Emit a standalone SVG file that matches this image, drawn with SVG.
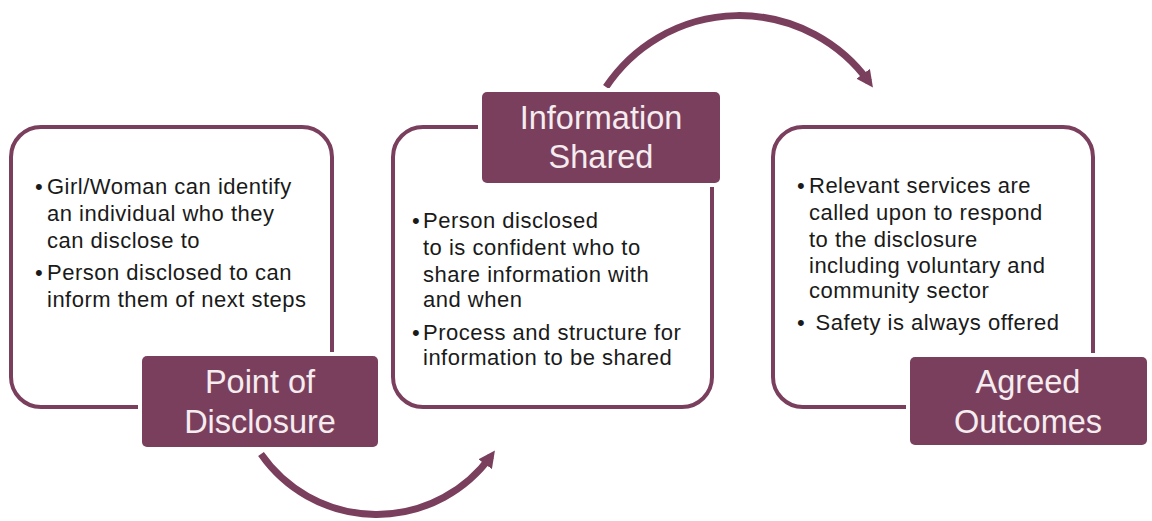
<svg xmlns="http://www.w3.org/2000/svg" width="1152" height="521" viewBox="0 0 1152 521">
  <style>
    .panel { fill: #ffffff; stroke: #7b3f5e; stroke-width: 4; }
    .tag { fill: #7b3f5e; stroke: #ffffff; stroke-width: 8; paint-order: stroke; }
    .tag-text { fill: #f4ecef; font-family: "Liberation Sans", Arial, sans-serif; font-size: 32.5px; text-anchor: middle; }
    .body { fill: #1a1a1a; font-family: "Liberation Sans", Arial, sans-serif; font-size: 22px; letter-spacing: 0.5px; }
    .flow { fill: none; stroke: #7b3f5e; stroke-width: 7; }
  </style>
  <defs>
    <marker id="head" viewBox="0 0 10 10" refX="6" refY="5" markerWidth="2.4" markerHeight="2.4" orient="auto" markerUnits="strokeWidth">
      <path d="M0,0 L10,5 L0,10 z" fill="#7b3f5e"/>
    </marker>
  </defs>

  <rect width="1152" height="521" fill="#ffffff"/>

  <!-- flow arrows between stages -->
  <g id="connectors">
    <path class="flow" d="M261,454 A141,141 0 0 0 491,456" marker-end="url(#head)"/>
    <path class="flow" d="M606,87 A160,160 0 0 1 869,82" marker-end="url(#head)"/>
  </g>

  <!-- stage 1 -->
  <g id="point-of-disclosure">
    <rect class="panel" x="11" y="127" width="321" height="280" rx="30"/>
    <text class="body">
      <tspan x="35" y="194">•</tspan><tspan x="47" y="194">Girl/Woman can identify</tspan>
      <tspan x="47" y="221">an individual who they</tspan>
      <tspan x="47" y="248">can disclose to</tspan>
      <tspan x="35" y="280">•</tspan><tspan x="47" y="280">Person disclosed to can</tspan>
      <tspan x="47" y="307">inform them of next steps</tspan>
    </text>
    <rect class="tag" x="142" y="356" width="236" height="91" rx="5"/>
    <text class="tag-text" x="260" y="393">Point of</text>
    <text class="tag-text" x="260" y="433">Disclosure</text>
  </g>

  <!-- stage 2 -->
  <g id="information-shared">
    <rect class="panel" x="393" y="127" width="319" height="280" rx="30"/>
    <text class="body">
      <tspan x="412" y="228">•</tspan><tspan x="423" y="228">Person disclosed</tspan>
      <tspan x="423" y="255">to is confident who to</tspan>
      <tspan x="423" y="282">share information with</tspan>
      <tspan x="423" y="307">and when</tspan>
      <tspan x="412" y="340">•</tspan><tspan x="423" y="340">Process and structure for</tspan>
      <tspan x="423" y="365">information to be shared</tspan>
    </text>
    <rect class="tag" x="482" y="92" width="238" height="91" rx="5"/>
    <text class="tag-text" x="601" y="129">Information</text>
    <text class="tag-text" x="601" y="168">Shared</text>
  </g>

  <!-- stage 3 -->
  <g id="agreed-outcomes">
    <rect class="panel" x="773" y="127" width="320" height="280" rx="30"/>
    <text class="body">
      <tspan x="797" y="193">•</tspan><tspan x="809" y="193">Relevant services are</tspan>
      <tspan x="809" y="220">called upon to respond</tspan>
      <tspan x="809" y="247">to the disclosure</tspan>
      <tspan x="809" y="273">including voluntary and</tspan>
      <tspan x="809" y="298">community sector</tspan>
      <tspan x="797" y="330">•</tspan><tspan x="809" y="330"> Safety is always offered</tspan>
    </text>
    <rect class="tag" x="910" y="357" width="237" height="88" rx="5"/>
    <text class="tag-text" x="1028" y="393">Agreed</text>
    <text class="tag-text" x="1028" y="433">Outcomes</text>
  </g>
</svg>
